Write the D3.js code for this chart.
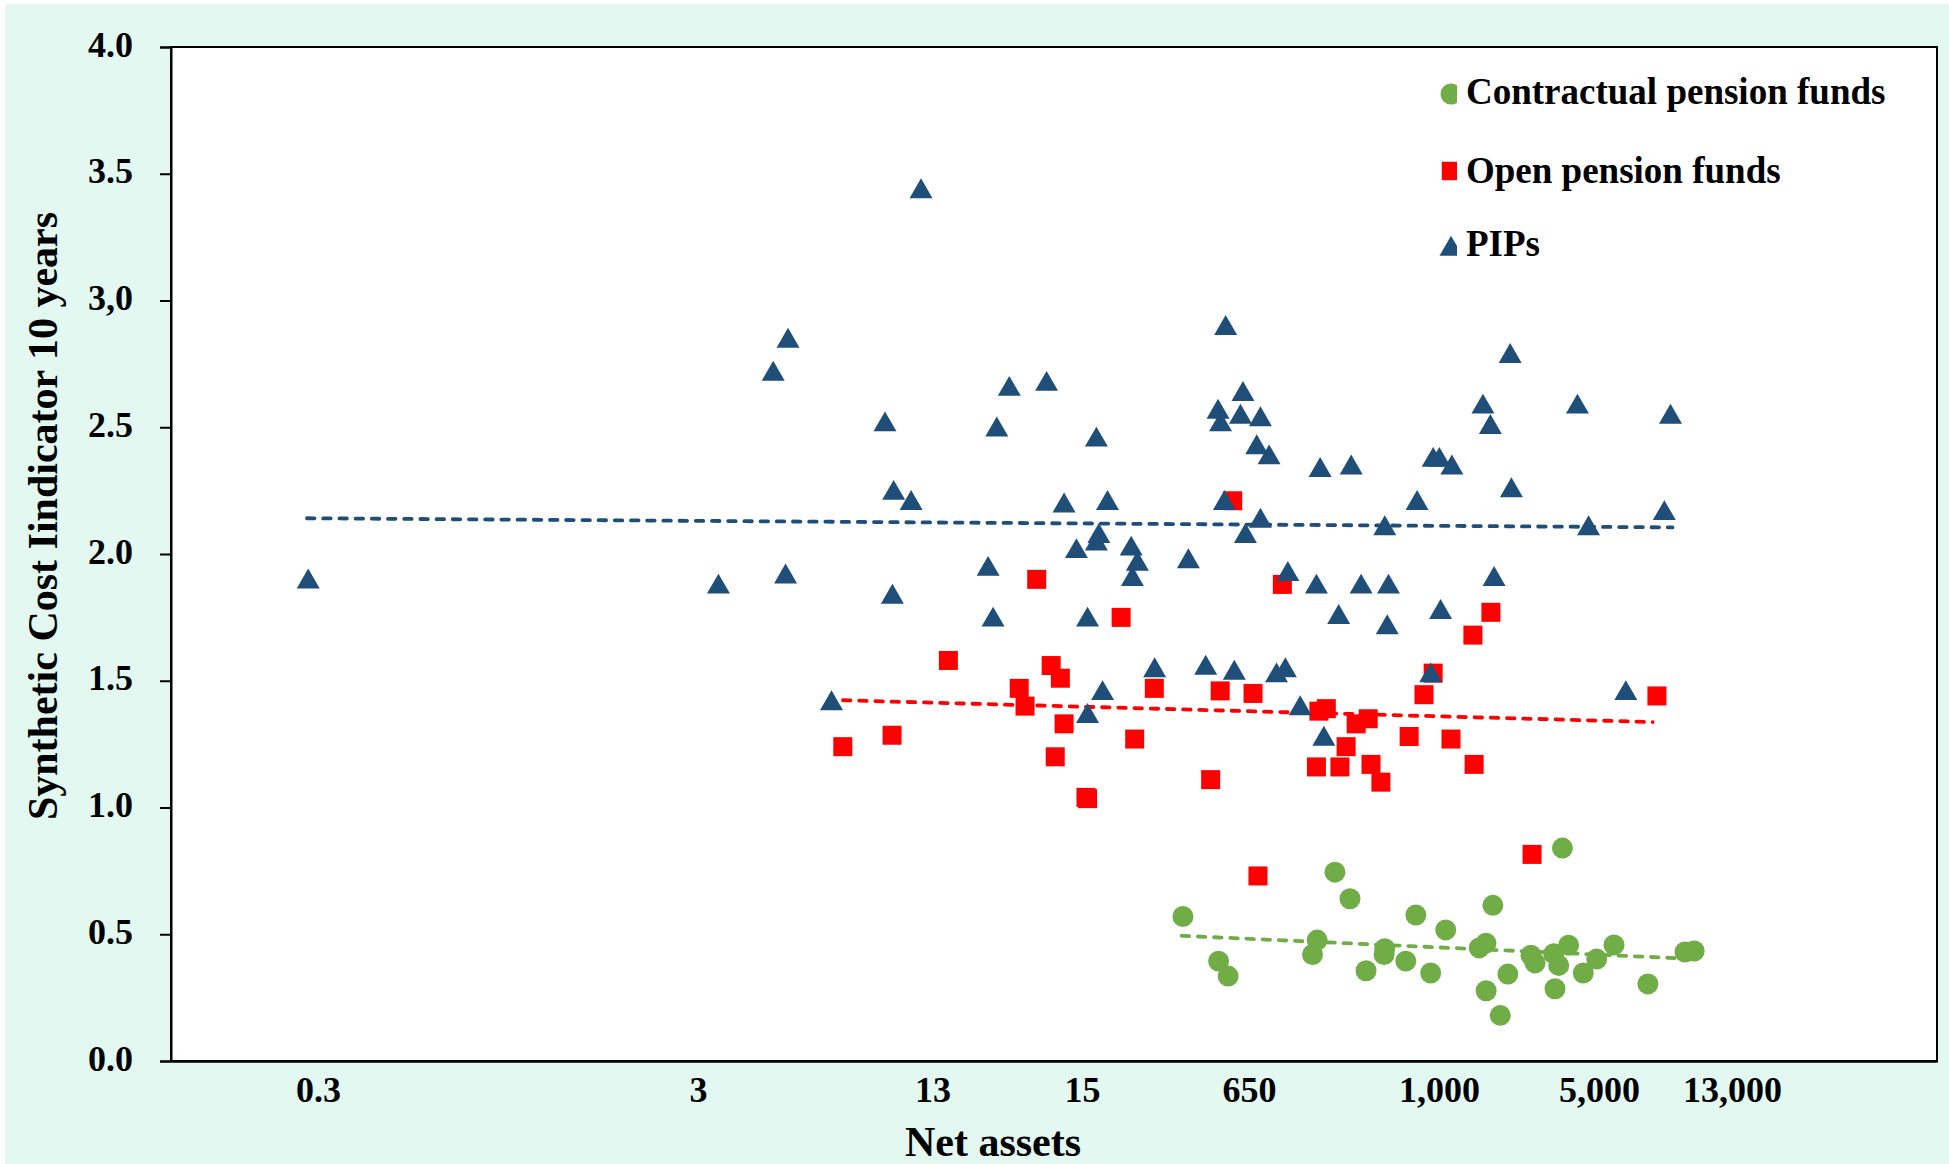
<!DOCTYPE html>
<html>
<head>
<meta charset="utf-8">
<script src="https://cdn.jsdelivr.net/npm/d3@7"></script>
<style>
  body { margin: 0; background: #fff; }
  svg text { font-family: "Liberation Serif", "Times New Roman", serif; font-weight: bold; fill: #000; }
</style>
</head>
<body>
<div id="chart"></div>
<script>
var xTickPos = [8.32, 29.84, 43.12, 51.59, 61.04, 71.80, 80.86, 88.39];
var xTickLabels = ["0.3", "3", "13", "15", "650", "1,000", "5,000", "13,000"];
var yTicks = [0, 0.5, 1, 1.5, 2, 2.5, 3, 3.5, 4];
var yTickLabels = ["0.0", "0.5", "1.0", "1.5", "2.0", "2.5", "3,0", "3.5", "4.0"];

var seriesNames = ["Contractual pension funds", "Open pension funds", "PIPs"];

// [x, cost]
var contractual = [[57.30,0.57],[59.32,0.394],[59.86,0.335],[64.64,0.42],[64.90,0.477],[65.91,0.745],[66.76,0.64],
  [67.67,0.356],[68.69,0.42],[68.73,0.443],[69.92,0.394],[70.49,0.576],[71.33,0.347],[72.18,0.517],[74.08,0.446],
  [74.46,0.465],[74.47,0.277],[74.85,0.614],[75.27,0.18],[75.70,0.343],[77.01,0.417],[77.24,0.387],[78.30,0.423],
  [78.37,0.285],[78.58,0.377],[78.79,0.84],[79.14,0.457],[79.97,0.347],[80.73,0.402],[81.71,0.458],[83.63,0.304],
  [85.73,0.43],[86.25,0.434]];

var openFunds = [[38.04,1.24],[40.83,1.285],[44.02,1.58],[48.03,1.47],[48.36,1.40],[49.02,1.90],[49.84,1.56],
  [50.36,1.51],[50.57,1.33],[50.07,1.20],[51.81,1.04],[51.90,1.035],[53.80,1.75],[54.57,1.27],[55.68,1.47],
  [58.87,1.11],[59.41,1.46],[60.12,2.21],[61.27,1.45],[61.55,0.73],[62.93,1.88],[64.86,1.16],[65.00,1.38],
  [65.42,1.39],[66.19,1.16],[66.54,1.24],[67.11,1.33],[67.79,1.35],[67.95,1.17],[68.51,1.10],[70.11,1.28],
  [70.95,1.445],[71.47,1.53],[72.48,1.27],[73.79,1.17],[73.72,1.68],[74.74,1.77],[77.07,0.815],[84.14,1.44]];

var pips = [[7.77,1.89],[31.00,1.87],[34.10,2.71],[34.94,2.84],[34.80,1.91],[37.40,1.41],[40.43,2.51],[40.92,2.24],
  [40.85,1.83],[41.91,2.20],[42.47,3.43],[46.27,1.94],[46.55,1.74],[46.76,2.49],[47.47,2.65],[49.58,2.67],
  [50.57,2.19],[51.27,2.01],[51.90,1.74],[51.90,1.36],[52.40,2.45],[52.40,2.04],[52.54,2.07],[52.75,1.45],
  [53.03,2.20],[54.37,2.02],[54.44,1.90],[54.72,1.96],[55.70,1.54],[57.61,1.97],[58.59,1.55],[59.29,2.56],
  [59.43,2.51],[59.72,2.89],[59.65,2.20],[60.21,1.53],[60.56,2.54],[60.70,2.63],[60.84,2.07],[61.48,2.42],
  [61.69,2.53],[61.69,2.13],[62.18,2.38],[62.60,1.52],[63.10,1.54],[63.24,1.92],[63.94,1.39],[64.86,1.87],
  [65.07,2.33],[65.28,1.27],[66.12,1.75],[66.83,2.34],[67.39,1.87],[68.73,2.10],[68.94,1.87],[68.87,1.71],
  [70.56,2.20],[71.33,1.52],[71.47,2.37],[71.82,2.37],[72.53,2.34],[71.89,1.77],[74.29,2.58],[74.71,2.50],
  [74.92,1.90],[75.83,2.78],[75.90,2.25],[79.64,2.58],[80.27,2.10],[82.38,1.45],[84.56,2.16],[84.91,2.54]];

// dashed trend lines, start and end points
var trendContractual = [[57.23,0.494],[85.45,0.405]];
var trendOpen = [[38.05,1.423],[83.90,1.337]];
var trendPips = [[7.70,2.141],[85.02,2.105]];

var W = 1949, H = 1164;
var margin = {left: 171, top: 47, right: 12, bottom: 103};

var svg = d3.select("#chart").append("svg")
  .attr("width", W)
  .attr("height", H);

svg.append("rect").attr("x", 5).attr("y", 4).attr("width", W - 5).attr("height", H - 4)
  .attr("fill", "#e3f8f1");

var x = d3.scaleLinear().domain([0, 100]).range([margin.left, W - margin.right]);
var y = d3.scaleLinear().domain([0, 4]).range([H - margin.bottom, margin.top]);

// plot area
svg.append("rect")
  .attr("x", x(0)).attr("y", y(4))
  .attr("width", x(100) - x(0)).attr("height", y(0) - y(4))
  .attr("fill", "#fff").attr("stroke", "#000").attr("stroke-width", 2);

var yAxis = svg.append("g")
  .attr("transform", "translate(" + x(0) + ",0)")
  .call(d3.axisLeft(y).tickValues(yTicks).tickSize(11).tickPadding(27)
    .tickFormat(function (d, i) { return yTickLabels[i]; }));
yAxis.selectAll("path, line").attr("stroke", "#000").attr("stroke-width", 2);
yAxis.selectAll("text").attr("font-size", 36).attr("dy", "0.25em");

var xAxis = svg.append("g")
  .attr("transform", "translate(0," + y(0) + ")")
  .call(d3.axisBottom(x).tickValues(xTickPos).tickSize(0).tickPadding(15)
    .tickFormat(function (d, i) { return xTickLabels[i]; }));
xAxis.select(".domain").attr("stroke", "#000").attr("stroke-width", 2.5);
xAxis.selectAll("text").attr("font-size", 36);

svg.append("text")
  .attr("x", 993).attr("y", 1156)
  .attr("text-anchor", "middle")
  .attr("font-size", 42)
  .text("Net assets");

svg.append("text")
  .attr("transform", "translate(57,516) rotate(-90)")
  .attr("text-anchor", "middle")
  .attr("font-size", 42)
  .text("Synthetic Cost Iindicator 10 years");

// trend lines
var line = d3.line().x(function (d) { return x(d[0]); }).y(function (d) { return y(d[1]); });
[[trendPips, "#1f4e79"], [trendOpen, "#ff0000"], [trendContractual, "#70ad47"]].forEach(function (t) {
  svg.append("path")
    .attr("d", line(t[0]))
    .attr("fill", "none")
    .attr("stroke", t[1])
    .attr("stroke-width", 3.8)
    .attr("stroke-linecap", "round")
    .attr("stroke-dasharray", "7.5 8.7");
});

var series = [
  {data: contractual, symbol: d3.symbolCircle, size: 346, color: "#70ad47"},
  {data: openFunds, symbol: d3.symbolSquare, size: 361, color: "#ff0000"},
  {data: pips, symbol: d3.symbolTriangle, size: 229, color: "#1f4e79"}
];

series.forEach(function (s) {
  svg.append("g").selectAll("path")
    .data(s.data)
    .enter().append("path")
    .attr("transform", function (d) { return "translate(" + x(d[0]) + "," + y(d[1]) + ")"; })
    .attr("d", d3.symbol().type(s.symbol).size(s.size))
    .attr("fill", s.color);
});

// legend (symbols are cut on the right as in the original)
svg.append("clipPath").attr("id", "legclip")
  .append("rect").attr("x", 1430).attr("y", 60).attr("width", 27).attr("height", 220);

var legY = [94, 171, 249];
var legTextY = [104, 183, 256];
var leg = svg.append("g");
series.forEach(function (s, i) {
  leg.append("g")
    .attr("clip-path", "url(#legclip)")
    .append("path")
    .attr("transform", "translate(1451," + legY[i] + ")")
    .attr("d", d3.symbol().type(s.symbol).size(i == 1 ? 340 : s.size))
    .attr("fill", s.color);
  leg.append("text")
    .attr("x", 1466).attr("y", legTextY[i])
    .attr("font-size", 37)
    .text(seriesNames[i]);
});
</script>
</body>
</html>
